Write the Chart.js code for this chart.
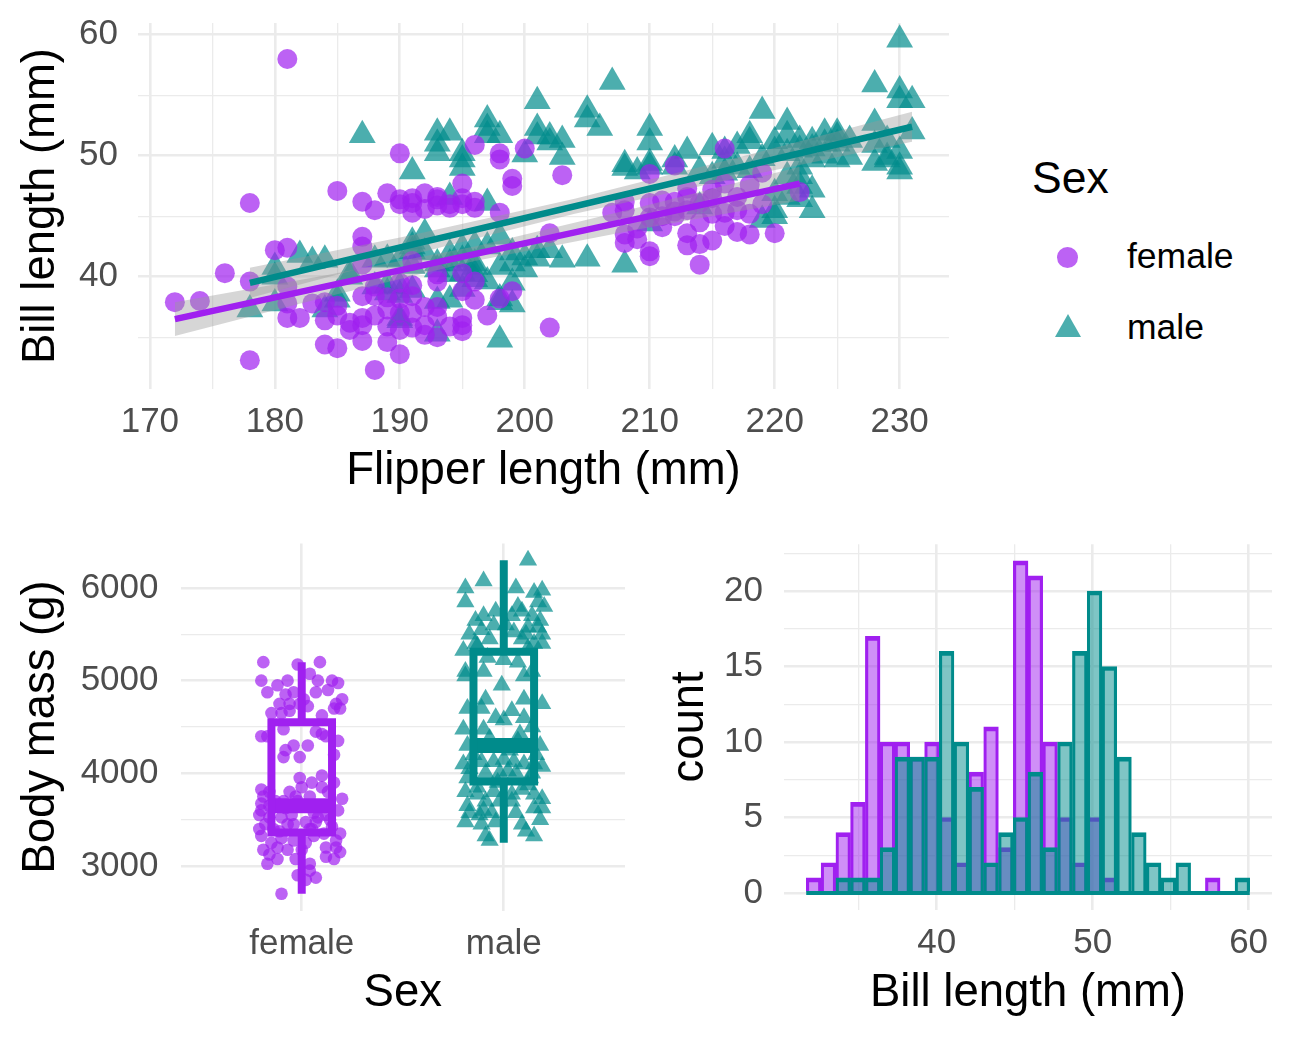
<!DOCTYPE html>
<html>
<head>
<meta charset="utf-8">
<script src="https://cdn.jsdelivr.net/npm/chart.js@4.4.1/dist/chart.umd.min.js"></script>
<style>
  body{margin:0;background:#fff;width:1297px;height:1042px;position:relative;overflow:hidden;
       font-family:"Liberation Sans",Arial,sans-serif;}
  canvas{position:absolute;}
  .lt{position:absolute;white-space:nowrap;color:#000;}
</style>
</head>
<body>
<canvas id="scatter" width="960" height="510" style="left:0;top:0;width:960px;height:510px"></canvas>
<canvas id="box" width="640" height="520" style="left:0;top:520px;width:640px;height:520px"></canvas>
<canvas id="hist" width="657" height="520" style="left:640px;top:520px;width:657px;height:520px"></canvas>

<div class="lt" style="left:1032px;top:156px;font-size:44.5px;line-height:44px">Sex</div>
<div style="position:absolute;left:1057px;top:247px;width:21px;height:21px;border-radius:50%;background:rgba(160,32,240,0.7)"></div>
<div class="lt" style="left:1127px;top:239px;font-size:35.5px;line-height:35px">female</div>
<div style="position:absolute;left:1055px;top:314px;width:26px;height:23px;clip-path:polygon(50% 0,100% 100%,0 100%);background:rgba(0,139,139,0.7)"></div>
<div class="lt" style="left:1127px;top:310px;font-size:35.5px;line-height:35px">male</div>

<script>
// ---- data ---------------------------------------------------------------
// flipper length (mm), bill length (mm)
const femalePoints = [
  [181,58.0],[172,37.9],[174,38.0],[176,40.3],[178,46.1],[178,39.6],[178,33.1],[180,42.2],[181,42.4],[181,39.2],
  [181,37.8],[181,36.6],[182,36.6],[183,37.8],[184,36.4],[184,34.4],[185,47.1],[185,37.6],[185,36.8],[185,34.1],
  [186,35.6],[187,46.2],[187,43.3],[187,42.5],[187,41.0],[187,38.4],[187,36.6],[187,36.0],[187,34.7],[188,45.5],
  [188,39.2],[188,38.4],[188,32.3],[189,46.9],[189,37.3],[189,35.9],[189,34.6],[190,50.2],[190,46.4],[190,46.0],
  [190,38.2],[190,37.0],[190,35.6],[190,33.6],[191,46.5],[191,45.3],[191,41.3],[191,39.3],[191,38.4],[191,35.8],
  [192,46.9],[192,37.5],[192,35.2],[193,46.6],[193,45.9],[193,40.2],[193,39.6],[193,37.5],[193,36.7],[194,46.0],
  [194,45.7],[195,47.7],[195,46.5],[195,46.0],[195,40.3],[195,38.8],[195,36.6],[195,36.0],[195,35.5],[196,50.9],
  [196,45.7],[196,39.6],[198,50.2],[198,49.7],[198,45.3],[198,38.2],[199,48.1],[199,47.5],[199,38.8],[200,50.6],
  [202,43.6],[202,35.8],[203,48.4],[207,45.3],[208,45.5],[208,43.5],[208,42.8],[209,43.1],[210,48.5],[210,46.1],
  [210,42.1],[210,41.7],[211,46.3],[211,45.0],[212,49.2],[212,45.4],[212,45.0],[213,47.3],[213,46.6],[213,43.6],
  [213,42.6],[214,44.5],[214,41.0],[215,47.2],[215,45.2],[215,43.0],[216,50.6],[216,47.7],[217,46.6],[217,43.7],
  [218,47.6],[218,43.5],[219,48.6],[219,46.0],[220,43.6],[222,47.0],[186,36.2],[188,36.8],[189,38.3],[190,39.5],
  [191,37.0],[192,36.0],[193,35.0],[194,35.9],[196,38.1],[197,36.8],[184,37.9],[191,46.1],[192,45.6],[193,46.4],
  [196,46.2],[210,44.9],[211,44.1],[212,46.2],[213,45.5],[214,46.1],[215,46.5],[216,45.3],[217,45.5],[209,44.0],
  [214,42.7],[216,44.2],[218,45.2],[208,46.2]
];
const malePoints = [
  [178,37.3],[180,40.8],[180,40.0],[180,37.8],[182,41.8],[183,41.3],[184,41.4],[184,37.3],[185,38.1],[185,38.6],
  [186,40.3],[186,40.0],[187,51.7],[188,39.2],[188,41.4],[189,38.7],[189,41.5],[189,39.3],[190,39.2],[190,36.4],
  [190,41.4],[190,38.5],[190,36.6],[191,48.7],[191,42.5],[191,38.9],[191,42.9],[191,42.1],[192,43.6],[192,42.0],
  [193,51.9],[193,51.0],[193,50.2],[193,38.0],[193,35.3],[193,41.1],[194,51.9],[194,46.6],[194,41.9],[194,41.1],
  [194,38.1],[195,50.2],[195,49.7],[195,49.0],[195,42.4],[195,41.4],[195,40.3],[196,42.6],[196,40.8],[196,40.2],
  [196,39.8],[197,53.0],[197,52.3],[197,51.7],[197,46.1],[197,42.5],[198,51.7],[198,43.3],[198,40.8],[198,38.2],
  [198,37.9],[198,34.8],[199,42.0],[199,41.1],[199,37.7],[200,50.1],[200,40.6],[201,54.5],[201,52.3],[201,51.6],
  [201,42.2],[201,41.5],[202,51.6],[202,51.1],[202,42.2],[203,51.3],[203,49.9],[203,41.4],[205,53.8],[205,53.0],
  [205,41.5],[206,52.3],[207,56.1],[208,49.3],[208,49.0],[208,41.0],[209,48.7],[210,52.3],[210,51.1],[210,49.4],
  [210,49.1],[210,44.4],[212,49.7],[212,49.1],[213,50.4],[214,45.8],[215,48.3],[216,50.4],[216,48.6],[217,49.1],
  [218,51.7],[218,51.2],[218,48.8],[219,53.7],[219,44.7],[220,51.2],[220,50.4],[220,46.9],[220,45.5],[220,45.0],
  [221,52.8],[221,51.7],[221,48.3],[221,46.6],[222,51.3],[222,50.5],[222,49.1],[222,48.3],[222,47.5],[222,46.4],
  [223,51.2],[223,49.7],[223,47.2],[223,45.5],[224,51.9],[224,51.0],[224,50.0],[225,51.9],[225,51.6],[225,51.0],
  [225,49.7],[226,51.3],[228,55.9],[228,52.7],[228,49.4],[229,49.9],[229,49.7],[230,59.6],[230,55.4],[230,54.6],
  [230,50.4],[230,49.1],[230,48.7],[231,54.6],[231,52.0],[193,40.6],[195,39.0],[197,39.6],[196,41.1],[194,40.2],
  [191,40.9],[199,39.5],[200,41.6],[214,48.8],[216,49.6],[217,50.8],[219,49.8],[221,50.2],[223,50.6],[226,49.9],
  [228,50.9],[229,51.3],[215,50.7]
];
// straight fits (end points) and their confidence band
const femaleFit = [[172,36.5],[222,47.7]];
const maleFit   = [[178,39.5],[231,52.4]];
const femaleBandX  = [172,184,196,209,222];
const femaleBandLo = [35.1,38.3,41.3,43.9,46.3];
const femaleBandHi = [37.9,40.1,42.5,45.7,49.1];
const maleBandX  = [178,191,204,218,231];
const maleBandLo = [38.25,41.85,45.2,48.4,51.15];
const maleBandHi = [40.75,43.45,46.45,50.1,53.65];

// body mass: [jitter offset from category, mass g]
const sexLabels = ['female','male'];
const femaleJitter = [
  [-0.19,5200],[-0.02,5175],[0.09,5200],[0.04,5075],[-0.20,5000],[-0.17,4875],[-0.12,4950],[-0.07,5000],[0.08,5000],[0.15,5000],
  [0.18,4975],[0.07,4875],[0.13,4900],[-0.08,4850],[-0.04,4875],[0.01,4800],[-0.11,4750],[-0.06,4750],[0.03,4725],[-0.06,4675],
  [-0.01,4750],[0.17,4750],[0.20,4800],[-0.15,4650],[-0.10,4650],[0.10,4625],[0.16,4700],[0.19,4700],[-0.20,4400],[-0.17,4400],
  [-0.09,4475],[0.07,4450],[0.10,4425],[0.18,4350],[-0.04,4300],[0.03,4300],[0.12,4400],[-0.09,4175],[-0.08,4250],[-0.01,4175],
  [0.16,4200],[0.10,3975],[-0.01,3950],[0.00,3850],[0.05,3900],[0.10,3850],[-0.20,3825],[-0.19,3750],[-0.16,3800],[-0.20,3600],
  [-0.16,3650],[-0.09,3700],[-0.03,3750],[0.04,3750],[-0.21,3550],[-0.16,3525],[-0.10,3525],[-0.04,3450],[0.02,3475],[0.07,3475],
  [0.12,3550],[-0.21,3400],[-0.14,3400],[-0.07,3450],[0.15,3425],[-0.20,3325],[-0.10,3300],[-0.04,3275],[0.06,3325],[0.19,3350],
  [-0.19,3175],[-0.12,3200],[-0.07,3175],[0.00,3175],[0.12,3200],[0.17,3200],[0.19,3150],[-0.17,3025],[-0.12,3075],[-0.03,3075],
  [0.04,3025],[0.16,3075],[-0.02,2900],[0.07,2875],[0.04,2950],[-0.10,2700],[0.02,2850],[-0.13,3700],[0.09,3650],[0.18,3600],
  [-0.05,3550],[0.14,3500],[-0.18,3450],[0.05,3400],[-0.11,3375],[0.11,3350],[0.02,3250],[-0.15,3250],[0.17,3275],[-0.08,3625],
  [0.06,3575],[0.20,3725],[-0.20,3675],[0.13,3800],[-0.02,3700],[0.08,3525],[-0.16,3125],[0.12,3100],[0.04,3400],[-0.06,3800],
  [0.16,3900]
];
const maleJitter = [
  [0.12,6300],[-0.19,6000],[-0.10,6075],[0.06,6000],[0.15,5950],[0.19,5975],[-0.19,5850],[0.17,5850],[0.20,5800],[-0.10,5700],
  [0.04,5700],[0.09,5750],[0.14,5700],[-0.05,5600],[-0.17,5500],[-0.11,5550],[0.01,5600],[0.05,5525],[0.12,5575],[0.17,5575],
  [0.19,5500],[-0.14,5400],[-0.07,5450],[0.09,5450],[0.15,5400],[0.19,5400],[-0.20,5325],[-0.13,5375],[0.12,5350],[-0.19,5100],
  [-0.10,5100],[0.00,5225],[0.07,5200],[0.10,5050],[0.14,5100],[-0.19,5050],[-0.01,4950],[-0.09,4800],[0.10,4800],[0.19,4750],
  [-0.18,4700],[-0.11,4700],[-0.04,4600],[0.00,4575],[0.04,4675],[0.10,4600],[-0.20,4475],[-0.10,4475],[0.14,4500],[0.08,4425],
  [-0.18,4300],[0.18,4300],[-0.20,4100],[-0.11,4125],[-0.05,4125],[0.00,4150],[0.05,4125],[0.10,4100],[0.15,4100],[0.19,4075],
  [-0.18,3950],[-0.09,4000],[-0.02,4000],[0.06,4000],[0.13,3950],[-0.19,3800],[-0.13,3775],[-0.05,3800],[0.04,3775],[0.09,3825],
  [0.15,3775],[0.19,3725],[-0.18,3650],[-0.09,3700],[-0.02,3700],[0.19,3625],[-0.17,3575],[-0.12,3550],[-0.06,3575],[0.06,3575],
  [0.15,3625],[-0.19,3475],[-0.11,3450],[-0.04,3475],[0.18,3500],[-0.09,3325],[0.11,3375],[0.15,3325],[-0.07,3275],[-0.15,4200],
  [0.03,4250],[0.16,4200],[-0.03,3900],[0.12,3875],[-0.13,3850],[0.07,4350],[-0.07,4375],[0.18,5650],[-0.14,5650],[0.07,5800],
  [-0.04,5750],[0.11,5500],[-0.08,5250],[0.02,4025],[-0.17,4050],[0.14,4000],[0.04,3700],[-0.10,3600],[0.09,3450]
];
// box stats: min, q1, median, q3, max
const femaleBox = [2700,3362,3650,4550,5200];
const maleBox   = [3250,3912,4300,5312,6300];

// histogram of bill length, 30 bins
const binCenters = [32.10,33.05,34.00,34.94,35.89,36.84,37.79,38.74,39.69,40.63,41.58,42.53,43.48,44.43,45.38,
                    46.32,47.27,48.22,49.17,50.12,51.07,52.01,52.96,53.91,54.86,55.81,56.76,57.70,58.65,59.60];
const femaleCounts = [1,2,4,6,17,10,10,9,10,5,2,8,11,3,22,21,10,5,2,5,1,0,0,0,0,0,0,1,0,0];
const maleCounts   = [0,0,1,1,1,3,9,9,9,16,10,7,2,4,5,8,3,10,16,20,15,9,4,2,1,2,0,0,0,1];

const scatterXTicks = [170,175,180,185,190,195,200,205,210,215,220,225,230];
const scatterYTicks = [35,40,45,50,55,60];
const massTicks = [3000,3500,4000,4500,5000,5500,6000];
const billTicks = [35,40,45,50,55,60];
const countTicks = [0,2.5,5,7.5,10,12.5,15,17.5,20,22.5];

// ---- styling ------------------------------------------------------------
const FONT = '"Liberation Sans", Arial, sans-serif';
const PURPLE = '#A020F0', TEAL = '#008B8B';
const PURPLE_A = 'rgba(160,32,240,0.7)', TEAL_A = 'rgba(0,139,139,0.7)';

function axis(o){
  return {
    type:'linear', position:o.pos, min:o.min, max:o.max, offset:false,
    border:{display:false},
    grid:{color:'#EBEBEB', drawTicks:false, offset:false,
          lineWidth: c => (c.tick && o.major(c.tick.value) ? 2.6 : 1.3)},
    afterBuildTicks: a => { a.ticks = o.ticks.map(v => ({value:v})); },
    afterFit: s => {
      if(o.pos === 'left') s.width = o.size; else s.height = o.size;
      s.paddingTop = s.paddingBottom = s.paddingLeft = s.paddingRight = 0;
    },
    ticks:{autoSkip:false, maxRotation:0, padding:o.pad, color:'#4D4D4D',
           font:{family:FONT, size:35},
           callback: v => (o.major(v) ? (o.label ? o.label(v) : String(v)) : '')},
    title:{display:true, text:o.title, color:'#000', font:{family:FONT, size:45.5},
           padding: o.pos === 'left' ? {top:o.titlePad, bottom:0} : {top:0, bottom:o.titlePad}}
  };
}
const xy = arr => arr.map(p => ({x:p[0], y:p[1]}));
const base = {responsive:false, animation:false, devicePixelRatio:1,
              plugins:{legend:{display:false}, tooltip:{enabled:false}}};

// ---- scatter -------------------------------------------------------------
new Chart(document.getElementById('scatter'), {
  type:'scatter',
  data:{datasets:[
    {data:xy(maleFit), showLine:true, borderColor:TEAL, borderWidth:6.5, pointRadius:0, order:0},
    {data:maleBandX.map((x,i)=>({x, y:maleBandLo[i]})), showLine:true, borderWidth:0, borderColor:'transparent', pointRadius:0, order:1},
    {data:maleBandX.map((x,i)=>({x, y:maleBandHi[i]})), showLine:true, borderWidth:0, borderColor:'transparent', pointRadius:0,
     fill:'-1', backgroundColor:'rgba(153,153,153,0.4)', order:1},
    {data:xy(femaleFit), showLine:true, borderColor:PURPLE, borderWidth:6.5, pointRadius:0, order:2},
    {data:femaleBandX.map((x,i)=>({x, y:femaleBandLo[i]})), showLine:true, borderWidth:0, borderColor:'transparent', pointRadius:0, order:3},
    {data:femaleBandX.map((x,i)=>({x, y:femaleBandHi[i]})), showLine:true, borderWidth:0, borderColor:'transparent', pointRadius:0,
     fill:'-1', backgroundColor:'rgba(153,153,153,0.4)', order:3},
    {data:xy(femalePoints), pointStyle:'circle', pointRadius:10, backgroundColor:PURPLE_A, borderWidth:0, order:4},
    {data:xy(malePoints), pointStyle:'triangle', pointRadius:15.5, backgroundColor:TEAL_A, borderWidth:0, order:5}
  ]},
  options:{...base,
    layout:{autoPadding:false, padding:{top:23, right:11, left:0, bottom:0}},
    scales:{
      x: axis({pos:'bottom', min:169.05, max:233.95, ticks:scatterXTicks, major:v=>v%10===0,
               size:121, pad:12.5, title:'Flipper length (mm)', titlePad:11}),
      y: axis({pos:'left', min:30.725, max:60.975, ticks:scatterYTicks, major:v=>v%10===0,
               size:138, pad:20, title:'Bill length (mm)', titlePad:14.5})
    }}
});

// ---- box plot + jitter --------------------------------------------------
const BW = 0.15;
function boxSets(cx, s, color){
  const rect = [[cx-BW,s[1]],[cx+BW,s[1]],[cx+BW,s[3]],[cx-BW,s[3]],[cx-BW,s[1]],[cx+BW,s[1]]];
  const line = {showLine:true, borderColor:color, pointRadius:0, borderCapStyle:'butt', borderJoinStyle:'miter'};
  return [
    {...line, data:xy(rect), borderWidth:8, order:0},
    {...line, data:xy([[cx,s[0]],[cx,s[1]]]), borderWidth:8, order:0},
    {...line, data:xy([[cx,s[3]],[cx,s[4]]]), borderWidth:8, order:0},
    {...line, data:xy([[cx-BW,s[2]],[cx+BW,s[2]]]), borderWidth:15, order:0}
  ];
}
new Chart(document.getElementById('box'), {
  type:'scatter',
  data:{datasets:[
    ...boxSets(1, femaleBox, PURPLE),
    ...boxSets(2, maleBox, TEAL),
    {data:femaleJitter.map(p=>({x:1+p[0], y:p[1]})), pointStyle:'circle', pointRadius:6.3, backgroundColor:PURPLE_A, borderWidth:0, order:2},
    {data:maleJitter.map(p=>({x:2+p[0], y:p[1]})), pointStyle:'triangle', pointRadius:10.5, backgroundColor:TEAL_A, borderWidth:0, order:2}
  ]},
  options:{...base,
    layout:{autoPadding:false, padding:{top:23.5, right:15, left:0, bottom:0}},
    scales:{
      x: axis({pos:'bottom', min:0.4, max:2.6, ticks:[1,2], major:()=>true, label:v=>sexLabels[v-1],
               size:129.5, pad:12.5, title:'Sex', titlePad:19.7}),
      y: axis({pos:'left', min:2520, max:6480, ticks:massTicks, major:v=>v%1000===0,
               size:180.5, pad:22, title:'Body mass (g)', titlePad:14.5})
    }}
});

// ---- histogram ----------------------------------------------------------
const binWidth = binCenters[1] - binCenters[0];
const edges = [binCenters[0] - binWidth/2, binCenters[binCenters.length-1] + binWidth/2];
const barStyle = {barPercentage:1, categoryPercentage:1, grouped:false, borderSkipped:false,
                  borderWidth:{top:4, left:2.5, right:2.5, bottom:0}};
new Chart(document.getElementById('hist'), {
  type:'bar',
  data:{datasets:[
    {type:'line', data:edges.map(x=>({x, y:0})), borderColor:TEAL, borderWidth:4, pointRadius:0, order:0},
    {...barStyle, data:binCenters.map((x,i)=>({x, y:maleCounts[i]})), backgroundColor:'rgba(0,139,139,0.5)', borderColor:TEAL, order:1},
    {...barStyle, data:binCenters.map((x,i)=>({x, y:femaleCounts[i]})), backgroundColor:'rgba(160,32,240,0.5)', borderColor:PURPLE, order:2}
  ]},
  options:{...base,
    layout:{autoPadding:false, padding:{top:24.2, right:25, left:0, bottom:0}},
    scales:{
      x: axis({pos:'bottom', min:30.2, max:61.5, ticks:billTicks, major:v=>v%10===0,
               size:130.4, pad:12.5, title:'Bill length (mm)', titlePad:19.7}),
      y: axis({pos:'left', min:-1.1, max:23.1, ticks:countTicks, major:v=>v%5===0,
               size:144, pad:21, title:'count', titlePad:22.7})
    }}
});
</script>
</body>
</html>
